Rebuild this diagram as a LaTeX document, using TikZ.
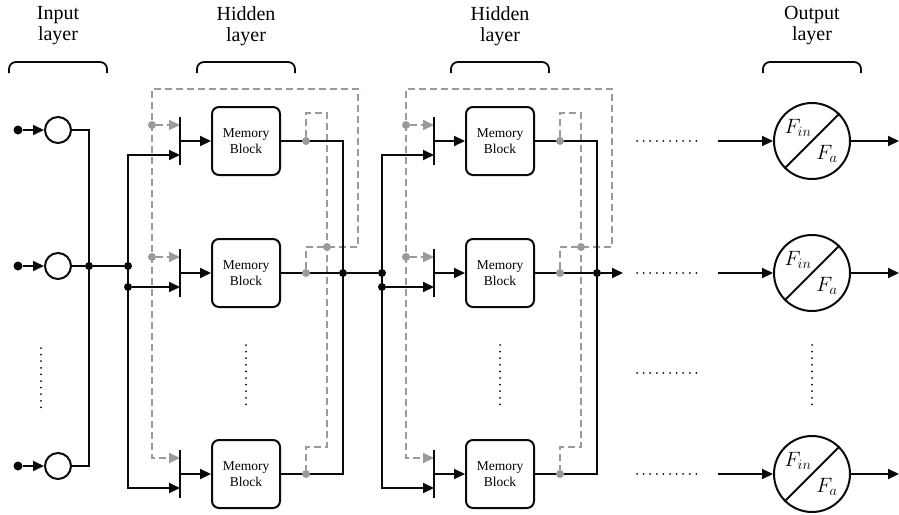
\documentclass[tikz,border=0pt]{standalone}
\usepackage{fontspec}
\setmainfont{Liberation Serif}
\usetikzlibrary{arrows.meta,positioning,calc,backgrounds}
\definecolor{lsInk}{HTML}{0A0A0A}
\definecolor{lsGray}{HTML}{9E9898}
\tikzset{
  wire/.style    ={lsInk,line width=2pt},
  flow/.style    ={wire,-{Triangle[length=11pt,width=10pt]}},
  bus/.style     ={wire,{Triangle[length=11pt,width=10pt]}-{Triangle[length=11pt,width=10pt]}},
  fb/.style      ={lsGray,line width=2pt,dash pattern=on 7pt off 4pt},
  fbflow/.style  ={fb,-{Triangle[length=11pt,width=10pt]}},
  jdot/.style    ={circle,fill=lsInk,inner sep=0pt,minimum size=8pt},
  srcdot/.style  ={circle,fill=lsInk,inner sep=0pt,minimum size=9pt},
  gdot/.style    ={circle,fill=lsGray,inner sep=0pt,minimum size=8pt},
  neuron/.style  ={circle,draw=lsInk,line width=2pt,minimum size=26pt,inner sep=0pt},
  gate/.style    ={minimum width=0pt,minimum height=48pt,inner sep=0pt},
  mblock/.style  ={draw=lsInk,line width=2pt,rounded corners=7pt,minimum width=68pt,
                   minimum height=68pt,align=center,font=\fontsize{13.5}{16.5}\selectfont},
  outunit/.style ={circle,draw=lsInk,line width=2pt,minimum size=76pt,inner sep=0pt},
  fsym/.style    ={inner sep=0pt,font=\fontsize{21}{21}\selectfont},
  head/.style    ={align=center,font=\fontsize{20}{21}\selectfont},
  brace/.style   ={lsInk,line width=1.8pt,rounded corners=7pt},
  etc/.style     ={lsInk,line width=2pt,dash pattern=on 0pt off 6.6pt,line cap=round},
}
\begin{document}
\begin{tikzpicture}[x=1pt,y=-1pt]
\useasboundingbox (0,0) rectangle (899,514);

%% layer headings with their braces
\foreach \nm/\cx/\txt in {hIn/58/Input,hHid1/246/Hidden,hHid2/500/Hidden,hOut/812/Output}{
  \node[head] (\nm) at (\cx,26) {\txt\\layer};
  \draw[brace] ({\cx-49},73) |- ({\cx+49},62) -- ({\cx+49},73);
}

%% input layer
\foreach \i/\cy in {1/130,2/266,3/466}{
  \node[srcdot] (src\i) at (18,\cy) {};
  \node[neuron] (in\i) at (58,\cy) {};
  \draw[flow] (src\i) -- (in\i);
}
\coordinate (inTop) at (89,130);
\coordinate (inBot) at (89,466);
\draw[wire] (in1) -- (inTop) -- (inBot) -- (in3);
\node[jdot] (ij) at (89,266) {};
\draw[etc] (41,348) -- (41,410);

%% two hidden layers of memory blocks
\foreach \hl/\dx/\jy in {1/0/266,2/254/273}{
\begin{scope}[xshift=\dx pt]
  \foreach \row/\cy in {1/141,2/273,3/474}{
    \node[mblock] (m\hl\row) at (246,\cy) {Memory\\Block};
    \node[gate] (g\hl\row) at (180,\cy) {};
    \draw[wire] (g\hl\row.north) -- (g\hl\row.south);
    \draw[flow] (g\hl\row) -- (m\hl\row);
  }
  %% forward inputs
  \coordinate (bt\hl) at (128,155);
  \coordinate (bb\hl) at (128,488);
  \draw[bus] (g\hl1 |- bt\hl) -- (bt\hl) -- (bb\hl) -- (g\hl3 |- bb\hl);
  \node[jdot] (hj\hl) at (128,\jy) {};
  \node[jdot] (hd\hl) at (128,287) {};
  \draw[flow] (hd\hl) -- (hd\hl -| g\hl2);
  %% outputs
  \coordinate (ot\hl) at (343,141);
  \coordinate (ob\hl) at (343,474);
  \draw[wire] (m\hl1) -- (ot\hl) -- (ob\hl) -- (m\hl3);
  \node[jdot] (oj\hl) at (343,273) {};
  \draw[wire] (m\hl2) -- (oj\hl);
  \foreach \row/\cy in {1/141,2/273,3/474}
    \node[gdot] (fb\hl\row) at (306,\cy) {};
  \node[gdot] (gi\hl1) at (152,125) {};
  \node[gdot] (gi\hl2) at (152,257) {};
  \coordinate (gi\hl3) at (152,458);
  \node[gdot] (fx\hl) at (327,247) {};
  \coordinate (ic\hl) at (327,113);
  \coordinate (id\hl) at (327,447);
  \coordinate (oc\hl) at (358,89);
  %% recurrent feedback
  \begin{pgfonlayer}{background}
    \draw[fb] (fb\hl1) |- (ic\hl) -- (id\hl) -| (fb\hl3);
    \draw[fbflow] (fb\hl2) |- (oc\hl |- fx\hl) -- (oc\hl) -| (gi\hl3) -- (gi\hl3 -| g\hl3);
    \draw[fbflow] (gi\hl1) -- (gi\hl1 -| g\hl1);
    \draw[fbflow] (gi\hl2) -- (gi\hl2 -| g\hl2);
  \end{pgfonlayer}
  \draw[etc] (246,345) -- (246,407);
\end{scope}
}
\draw[wire] (in2) -- (ij) -- (hj1);
\draw[wire] (oj1) -- (hj2);
\coordinate (hOutEnd) at (623,273);
\draw[flow] (oj2) -- (hOutEnd);

%% output layer
\foreach \cy in {141,273,373,474}
  \draw[etc] (637,\cy) -- (697,\cy);
\foreach \row/\cy in {1/141,2/273,3/474}{
  \node[outunit] (ou\row) at (812,\cy) {};
  \draw[wire] (ou\row.225) -- (ou\row.45);
  \node[fsym] (fin\row) at ($(ou\row)+(-14,-13)$) {$F_{in}$};
  \node[fsym] (fa\row) at ($(ou\row)+(15,13)$) {$F_a$};
  \coordinate (oi\row) at (718,\cy);
  \coordinate (oo\row) at (899,\cy);
  \draw[flow] (oi\row) -- (ou\row);
  \draw[flow] (ou\row) -- (oo\row);
}
\draw[etc] (812,345) -- (812,407);
\end{tikzpicture}
\end{document}
